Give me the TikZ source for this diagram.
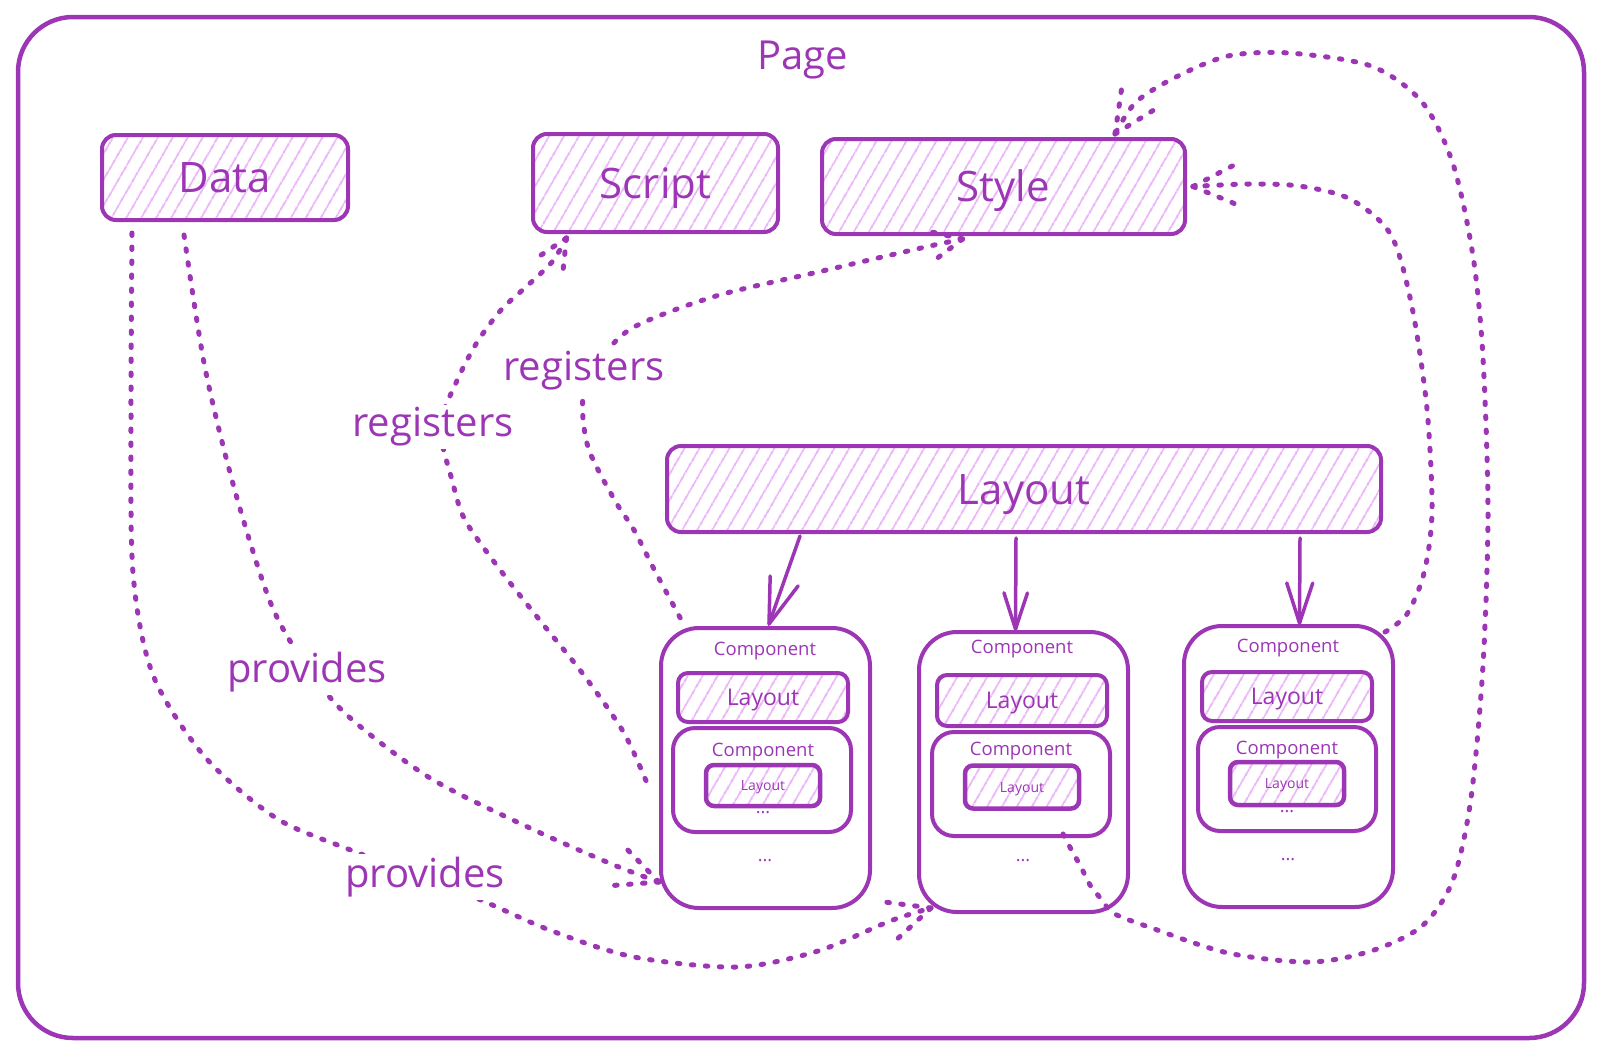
\documentclass[tikz,border=0pt]{standalone}
\usepackage{fontspec}
\setmainfont{Open Sans}
\usetikzlibrary{calc,patterns.meta}
\definecolor{grape}{HTML}{9C36B5}
\definecolor{hatch}{HTML}{EBB6F8}
\tikzset{
  frame/.style={draw=grape, line width=4.5pt, rounded corners=55pt, inner sep=0pt},
  hatched/.style={pattern={Lines[angle=60,distance=13pt,line width=2pt]}, pattern color=hatch},
  box/.style={draw=grape, line width=4pt, rounded corners=14pt, hatched, inner sep=0pt, text=grape, font=\fontsize{42}{50}\selectfont, text height=30pt, text depth=0pt},
  ibox/.style={draw=grape, line width=4pt, rounded corners=10pt, hatched, inner sep=0pt, text=grape, font=\fontsize{23}{28}\selectfont, text height=16.5pt, text depth=0pt},
  tbox/.style={draw=grape, line width=4.5pt, rounded corners=8pt, hatched, inner sep=0pt, text=grape, font=\fontsize{14}{17}\selectfont, text height=10pt, text depth=0pt},
  comp/.style={draw=grape, line width=4pt, rounded corners=38pt, fill=white, inner sep=0pt},
  icomp/.style={draw=grape, line width=4pt, rounded corners=22pt, inner sep=0pt},
  bigtxt/.style={text=grape, inner sep=0pt, font=\fontsize{40}{48}\selectfont},
  edgetxt/.style={text=grape, fill=white, inner sep=3pt, font=\fontsize{40}{48}\selectfont},
  midtxt/.style={text=grape, inner sep=0pt, font=\fontsize{18.5}{22}\selectfont},
  dotstxt/.style={text=grape, inner sep=0pt, font=\fontsize{18}{22}\selectfont},
  conn/.style={draw=grape, line width=5pt, line cap=round, dash pattern=on 2.5pt off 11.5pt},
  solidc/.style={draw=grape, line width=3.5pt, line cap=round, line join=round},
}
\newcommand\dbarb[3][40]{%
  \draw[conn] (#2) -- ($(#2)!#1pt!25:(#3)$);
  \draw[conn] (#2) -- ($(#2)!#1pt!-25:(#3)$);}
\newcommand\sbarb[3][40]{%
  \draw[solidc] (#2) -- ($(#2)!#1pt!18:(#3)$);
  \draw[solidc] (#2) -- ($(#2)!#1pt!-18:(#3)$);}
\begin{document}
\begin{tikzpicture}[x=1pt,y=-1pt]
\useasboundingbox (0,0) rectangle (1604,1058);
% page frame
\node[frame, minimum width=1566pt, minimum height=1021pt] (page) at (801,527.5) {};
\node[bigtxt] (pagelbl) at (803,60) {Page};
% top boxes
\node[box, minimum width=246pt, minimum height=85pt] (data) at (225,177.5) {Data};
\node[box, minimum width=245pt, minimum height=98pt] (script) at (655.5,183) {Script};
\node[box, minimum width=363pt, minimum height=95pt] (style) at (1003.5,186.5) {Style};
\node[box, minimum width=714pt, minimum height=86pt] (layout) at (1024,489) {Layout};
% component 1
\node[comp, minimum width=209pt, minimum height=280pt] (c1) at (765.5,768) {};
\node[midtxt] (c1t) at (765,651) {Component};
\node[ibox, minimum width=170pt, minimum height=49pt] (c1l) at (763,697.5) {Layout};
\node[icomp, minimum width=178pt, minimum height=104pt] (c1c) at (762,780) {};
\node[midtxt] (c1ct) at (763,752) {Component};
\node[tbox, minimum width=114pt, minimum height=41pt] (c1tl) at (763,785.5) {Layout};
\node[dotstxt] (c1d1) at (763,813) {...};
\node[dotstxt] (c1d2) at (765,861) {...};
% component 2
\node[comp, minimum width=209pt, minimum height=280pt] (c2) at (1023.5,772) {};
\node[midtxt] (c2t) at (1022,649) {Component};
\node[ibox, minimum width=170pt, minimum height=51pt] (c2l) at (1022,700.5) {Layout};
\node[icomp, minimum width=178pt, minimum height=104pt] (c2c) at (1021,784) {};
\node[midtxt] (c2ct) at (1021,751) {Component};
\node[tbox, minimum width=114pt, minimum height=43pt] (c2tl) at (1022,787) {Layout};
\node[dotstxt] (c2d2) at (1023,861) {...};
% component 3
\node[comp, minimum width=209pt, minimum height=281pt] (c3) at (1288.5,766.5) {};
\node[midtxt] (c3t) at (1288,648) {Component};
\node[ibox, minimum width=170pt, minimum height=49pt] (c3l) at (1287,696.5) {Layout};
\node[icomp, minimum width=178pt, minimum height=104pt] (c3c) at (1287,779) {};
\node[midtxt] (c3ct) at (1287,750) {Component};
\node[tbox, minimum width=114pt, minimum height=43pt] (c3tl) at (1287,783.5) {Layout};
\node[dotstxt] (c3d1) at (1287,812) {...};
\node[dotstxt] (c3d2) at (1288,860) {...};
% solid arrows layout -> components
\coordinate (a1s) at ($(layout.south west)+(135,2)$);
\coordinate (a1e) at ($(c1.north)+(3.5,-2)$);
\draw[solidc] (a1s) -- (a1e);
\sbarb[48]{a1e}{a1s}
\coordinate (a2s) at ($(layout.south)+(-8,4)$);
\coordinate (a2e) at ($(c2.north)+(-8,-1)$);
\draw[solidc] (a2s) -- (a2e);
\sbarb[38]{a2e}{a2s}
\coordinate (a3s) at ($(layout.south east)+(-83,4)$);
\coordinate (a3e) at ($(c3.north)+(11,-1)$);
\draw[solidc] (a3s) -- (a3e);
\sbarb[42]{a3e}{a3s}
% connector 1: Data -> C1 (provides)
\coordinate (p1s) at ($(data.south)+(-41,14)$);
\coordinate (p1e) at ($(c1.west)+(0,114)$);
\draw[conn] plot[smooth,tension=0.5] coordinates {(p1s) (205,368) (235,491) (271,604) (307,667) (348,716) (430,778) (532,829) (614,865) (p1e)};
\coordinate (p1b) at (614,865);
\dbarb[46]{p1e}{p1b}
% connector 2: Data -> C2 (provides)
\coordinate (p2s) at ($(data.south west)+(31,12)$);
\coordinate (p2e) at ($(c2.south west)+(14,-6)$);
\draw[conn] plot[smooth,tension=0.5] coordinates {(p2s) (131,409) (133,573) (153,675) (205,757) (276,818) (348,849) (425,878) (481,900) (552,931) (634,957) (737,967) (818,951) (890,921) (p2e)};
\coordinate (p2b) at (890,921);
\dbarb[50]{p2e}{p2b}
% connector 3: C1 -> Script (registers)
\coordinate (r1e) at ($(script.south)+(-89,4)$);
\coordinate (r1s) at ($(c1.west)+(-10,20)$);
\draw[conn] plot[smooth,tension=0.5] coordinates {(r1e) (552,262) (527,286) (501,310) (476,344) (455,385) (440,427) (452,480) (465,520) (501,571) (542,623) (583,674) (624,733) (r1s)};
\coordinate (r1b) at (552,262);
\dbarb[36]{r1e}{r1b}
% connector 4: C1 -> Style (registers)
\coordinate (r2e) at ($(style.south)+(-41,3)$);
\coordinate (r2s) at ($(c1.north west)+(24,-3)$);
\draw[conn] plot[smooth,tension=0.5] coordinates {(r2e) (921,248) (818,272) (716,296) (634,327) (600,360) (583,397) (588,447) (614,499) (634,530) (655,571) (r2s)};
\coordinate (r2b) at (921,248);
\dbarb[38]{r2e}{r2b}
% connector 5: C3 -> Style right
\coordinate (s1s) at ($(c3.north east)+(-10,8)$);
\coordinate (s1e) at ($(style.east)+(6,0)$);
\draw[conn] plot[smooth,tension=0.5] coordinates {(s1s) (1407,614) (1424,573) (1432,512) (1427,409) (1412,307) (1391,235) (1350,199) (1299,186) (1248,184) (s1e)};
\coordinate (s1b) at (1248,184);
\dbarb[56]{s1e}{s1b}
% connector 6: C2 -> Style top
\coordinate (s2s) at ($(c2.south east)+(-67,-80)$);
\coordinate (s2e) at ($(style.north east)+(-72,-3)$);
\draw[conn] plot[smooth,tension=0.5] coordinates {(s2s) (1072,851) (1081,867) (1090,885) (1102,900) (1113,913) (1146,926) (1228,953) (1310,962) (1371,951) (1422,926) (1453,880) (1471,798) (1483,665) (1488,512) (1483,358) (1473,256) (1453,164) (1422,102) (1371,66) (1289,53) (1228,56) (1176,77) (1136,102) (s2e)};
\coordinate (s2b) at (1136,102);
\dbarb[50]{s2e}{s2b}
% edge labels
\node[edgetxt] (prov1) at (307,672) {provides};
\node[edgetxt] (prov2) at (425,877) {provides};
\node[edgetxt] (reg1) at (433,427) {registers};
\node[edgetxt] (reg2) at (584,371) {registers};
\end{tikzpicture}
\end{document}
